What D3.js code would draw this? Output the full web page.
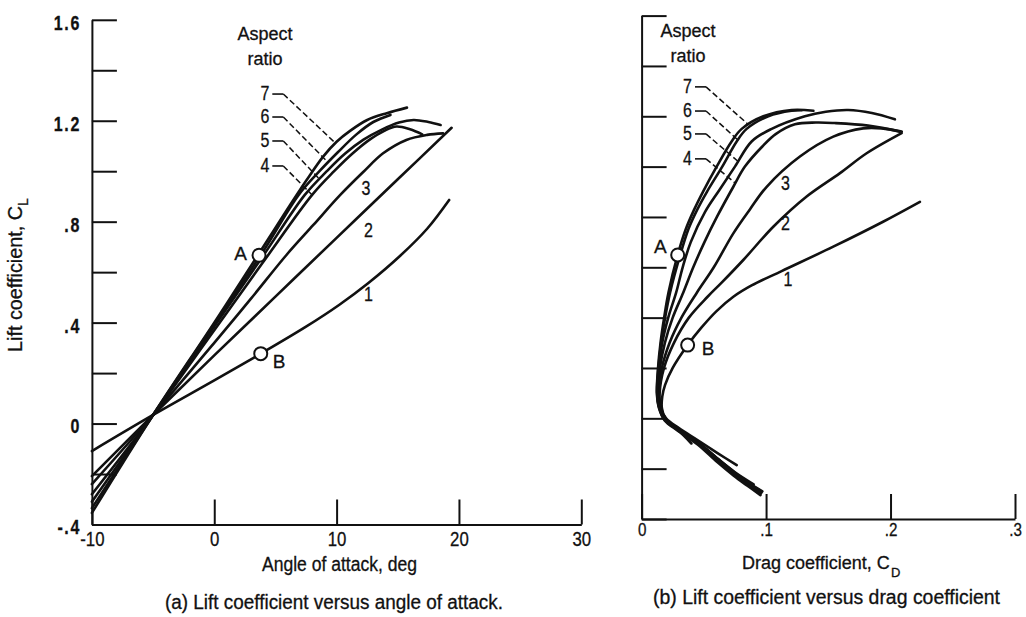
<!DOCTYPE html>
<html>
<head>
<meta charset="utf-8">
<script src="https://cdn.jsdelivr.net/npm/d3@7"></script>
<style>
  html, body { margin: 0; padding: 0; background: #fff; }
  svg { display: block; }
  text { font-family: "Liberation Sans", Arial, sans-serif; fill: #111; stroke: #111; stroke-width: 0.3px; }
</style>
</head>
<body>
<svg id="fig" width="1026" height="617"></svg>
<script>
// Wing aspect ratios shown in both panels
const aspectRatios = [1, 2, 3, 4, 5, 6, 7];

// (a) Lift coefficient C_L against angle of attack (deg), one list per aspect ratio
const liftAR1 = [[-10,-0.109],[-5,0.034],[0,0.171],[3.8,0.277],[7.5,0.384],[10.2,0.470],[12.6,0.557],[15.2,0.665],[17.4,0.772],[19.2,0.886]];
const liftAR2 = [[-10,-0.208],[-5,0.034],[0,0.270],[5,0.503],[10,0.736],[15,0.968],[19.4,1.172]];
const liftAR3 = [[-10,-0.24],[-5,0.034],[0,0.32],[3,0.495],[5.9,0.668],[8.1,0.787],[10.3,0.906],[12.2,0.998],[13.8,1.071],[15.7,1.124],[17.4,1.144],[18.7,1.150]];
const liftAR4 = [[-10,-0.28],[-5,0.034],[0,0.37],[4,0.64],[8,0.906],[9.8,1.0],[11.3,1.07],[12.7,1.125],[13.9,1.160],[14.9,1.177],[16,1.166],[17,1.146]];
const liftAR5 = [[-10,-0.31],[-5,0.034],[0,0.385],[4,0.665],[7.4,0.906],[9.2,1.0],[10.7,1.07],[12.2,1.125],[13.7,1.165],[15.1,1.193],[16.3,1.203],[17.5,1.195],[18.5,1.183]];
const liftAR6 = [[-10,-0.335],[-5,0.034],[0,0.395],[3.9,0.675],[6.9,0.906],[8.6,1.0],[10.1,1.075],[11.6,1.145],[13,1.195],[14.4,1.223]];
const liftAR7 = [[-10,-0.354],[-5,0.034],[0,0.40],[3.75,0.681],[4.8,0.760],[6.2,0.866],[7.55,0.965],[8.9,1.058],[10,1.117],[11.1,1.160],[12.5,1.203],[14.1,1.230],[15.75,1.252]];

// (b) Drag polars: [C_D, C_L] per aspect ratio
const polarAR1 = [[0.040,-0.10],[0.0295,-0.048],[0.0195,-0.005],[0.0163,0.04],[0.0166,0.086],[0.0188,0.132],[0.025,0.2],[0.037,0.291],[0.048,0.36],[0.06,0.425],[0.0737,0.483],[0.0884,0.528],[0.1125,0.585],[0.154,0.682],[0.194,0.781],[0.2236,0.860]];
const polarAR2 = [[0.0764,-0.186],[0.061,-0.138],[0.0455,-0.088],[0.0297,-0.038],[0.0197,0.0],[0.0155,0.04],[0.0145,0.10],[0.018,0.2],[0.026,0.3],[0.038,0.4],[0.053,0.483],[0.0645,0.54],[0.0817,0.629],[0.1058,0.761],[0.1326,0.881],[0.1594,0.974],[0.1808,1.053],[0.2089,1.133]];
const polarAR3 = [[0.09,-0.262],[0.075,-0.214],[0.0616,-0.162],[0.0455,-0.095],[0.0297,-0.042],[0.0195,-0.003],[0.0152,0.04],[0.0138,0.10],[0.0163,0.2],[0.0225,0.3],[0.032,0.4],[0.0445,0.5],[0.058,0.6],[0.0737,0.735],[0.087,0.83],[0.1005,0.92],[0.1272,1.04],[0.154,1.119],[0.178,1.152],[0.193,1.152],[0.2075,1.139]];
const polarAR4 = [[0.097,-0.29],[0.0862,-0.256],[0.0752,-0.217],[0.0618,-0.164],[0.0457,-0.097],[0.0297,-0.044],[0.0192,-0.005],[0.0148,0.04],[0.013,0.10],[0.0147,0.2],[0.0187,0.3],[0.025,0.4],[0.0335,0.5],[0.0415,0.6],[0.0505,0.7],[0.0605,0.8],[0.0737,0.92],[0.083,1.0],[0.097,1.08],[0.108,1.13],[0.1232,1.168],[0.14,1.175],[0.155,1.173],[0.182,1.163],[0.209,1.139]];
const polarAR5 = [[0.0965,-0.292],[0.086,-0.257],[0.075,-0.218],[0.0616,-0.165],[0.0455,-0.098],[0.0295,-0.045],[0.019,-0.006],[0.0145,0.04],[0.0126,0.10],[0.0140,0.2],[0.0166,0.3],[0.0214,0.4],[0.0278,0.5],[0.033,0.6],[0.0395,0.7],[0.051,0.82],[0.0625,0.907],[0.075,1.0],[0.0884,1.1],[0.1045,1.15],[0.1312,1.2],[0.148,1.218],[0.166,1.225],[0.185,1.213],[0.2035,1.188]];
const polarAR6 = [[0.096,-0.298],[0.0855,-0.262],[0.0745,-0.222],[0.061,-0.169],[0.0453,-0.101],[0.0293,-0.047],[0.0187,-0.007],[0.0142,0.04],[0.0124,0.10],[0.0135,0.2],[0.0157,0.3],[0.0189,0.4],[0.0229,0.5],[0.0305,0.64],[0.0375,0.75],[0.0448,0.83],[0.0525,0.9],[0.0648,1.0],[0.0764,1.1],[0.0844,1.15],[0.1018,1.2],[0.1205,1.222],[0.1286,1.224]];
const polarAR7 = [[0.0955,-0.305],[0.085,-0.268],[0.074,-0.228],[0.0605,-0.173],[0.045,-0.104],[0.029,-0.049],[0.0185,-0.008],[0.014,0.04],[0.0123,0.10],[0.0132,0.2],[0.0152,0.3],[0.0181,0.4],[0.0216,0.5],[0.029,0.649],[0.0354,0.75],[0.0423,0.83],[0.0493,0.9],[0.0603,1.0],[0.0723,1.1],[0.0804,1.15],[0.0978,1.2],[0.1205,1.225],[0.138,1.222]];

const liftCurves = [liftAR1, liftAR2, liftAR3, liftAR4, liftAR5, liftAR6, liftAR7];
const polarCurves = [polarAR1, polarAR2, polarAR3, polarAR4, polarAR5, polarAR6, polarAR7];

// Axis ticks and their labels
const alphaTicks = [-10, 0, 10, 20, 30];
const alphaTickLabels = ["-10", "0", "10", "20", "30"];
const clTicks = [-0.4, -0.2, 0, 0.2, 0.4, 0.6, 0.8, 1.0, 1.2, 1.4, 1.6];
const clTickLabels = ["-.4", "", "0", "", ".4", "", ".8", "", "1.2", "", "1.6"];
const cdTicks = [0, 0.1, 0.2, 0.3];
const cdTickLabels = ["0", ".1", ".2", ".3"];

// Marked operating points A and B
const liftPoints = [{ name: "A", x: 3.66, y: 0.667 }, { name: "B", x: 3.8, y: 0.277 }];
const polarPoints = [{ name: "A", x: 0.029, y: 0.649 }, { name: "B", x: 0.037, y: 0.291 }];

// Curve labels: leader-labelled ones (4-7) and inline ones (1-3), in data units
const liftLeaderLabels = [
  { ar: 7, x: 4.5, y: 1.282, at: 9.9 },
  { ar: 6, x: 4.5, y: 1.191, at: 9.3 },
  { ar: 5, x: 4.5, y: 1.096, at: 8.6 },
  { ar: 4, x: 4.5, y: 0.997, at: 8.0 }
];
const liftInlineLabels = [{ ar: 3, x: 12.4, y: 0.904 }, { ar: 2, x: 12.6, y: 0.738 }, { ar: 1, x: 12.6, y: 0.486 }];
const polarLeaderLabels = [
  { ar: 7, x: 0.0405, y: 1.293, at: 1.166 },
  { ar: 6, x: 0.0405, y: 1.197, at: 1.106 },
  { ar: 5, x: 0.0405, y: 1.106, at: 1.02 },
  { ar: 4, x: 0.0405, y: 1.007, at: 0.934 }
];
const polarInlineLabels = [{ ar: 3, x: 0.1155, y: 0.907 }, { ar: 2, x: 0.1155, y: 0.748 }, { ar: 1, x: 0.1175, y: 0.524 }];

const svg = d3.select("#fig");
const ink = "#111";
const NARROW = 0.8;   // horizontal squeeze for the condensed numerals

const xA = d3.scaleLinear().domain([-10, 30]).range([91.9, 581.3]);
const yA = d3.scaleLinear().domain([-0.4, 1.6]).range([524.5, 19.8]);
const xB = d3.scaleLinear().domain([0, 0.3]).range([641.6, 1015]);
const yB = d3.scaleLinear().domain([-0.4, 1.6]).range([519, 15.6]);

// linear interpolation along a polyline: point where coordinate k equals v
function along(points, k, v) {
  for (let i = 0; i < points.length - 1; i++) {
    const a = points[i], b = points[i + 1];
    if ((a[k] - v) * (b[k] - v) <= 0 && a[k] !== b[k]) {
      const t = (v - a[k]) / (b[k] - a[k]);
      return [a[0] + t * (b[0] - a[0]), a[1] + t * (b[1] - a[1])];
    }
  }
  return points[points.length - 1];
}

// squeeze numerals horizontally while keeping their anchor point in place
function condense(sel) {
  sel.each(function () {
    const t = d3.select(this);
    const x = +t.attr("x") || 0;
    t.attr("x", x / NARROW).attr("transform", `scale(${NARROW},1)`);
  });
}

function styleAxis(g, numSize, weight) {
  g.attr("font-family", null).attr("font-size", null);
  g.selectAll("path.domain").attr("stroke", ink).attr("stroke-width", 2);
  g.selectAll(".tick line").attr("stroke", ink).attr("stroke-width", 2);
  g.selectAll(".tick text").attr("fill", ink).style("font-size", numSize + "px")
    .style("font-weight", weight);
  condense(g.selectAll(".tick text"));
}

function panel(x, y, curves, points, leaderLabels, inlineLabels, opts) {
  const g = svg.append("g");

  // axes with inward ticks
  const ax = g.append("g").attr("transform", `translate(0,${y.range()[0]})`)
    .call(d3.axisBottom(x).tickValues(opts.xTicks).tickFormat((d, i) => opts.xLabels[i])
      .tickSizeInner(-25).tickSizeOuter(0).tickPadding(opts.xPad));
  styleAxis(ax, opts.xNum, "normal");

  const ay = g.append("g").attr("transform", `translate(${x.range()[0]},0)`)
    .call(d3.axisLeft(y).tickValues(clTicks).tickFormat((d, i) => opts.yLabels ? opts.yLabels[i] : "")
      .tickSizeInner(-25).tickSizeOuter(0).tickPadding(11));
  styleAxis(ay, opts.yNum, "bold");
  ay.selectAll(".tick text").attr("y", 3).attr("letter-spacing", "2px");

  // curves
  const line = d3.line().x(d => x(d[0])).y(d => y(d[1])).curve(d3.curveCatmullRom.alpha(0.5));
  g.append("g").selectAll("path").data(curves).join("path")
    .attr("d", line).attr("fill", "none").attr("stroke", ink)
    .attr("stroke-width", 2.6).attr("stroke-linejoin", "round").attr("stroke-linecap", "round");

  // "Aspect ratio" heading
  const head = g.append("text").attr("text-anchor", "middle").style("font-size", "18px");
  head.append("tspan").attr("x", x(opts.head[0])).attr("y", y(opts.head[1])).text("Aspect");
  head.append("tspan").attr("x", x(opts.head[0])).attr("y", y(opts.head[2])).text("ratio");

  // leader-labelled curves
  leaderLabels.forEach(l => {
    const lx = x(l.x), ly = y(l.y);
    g.append("text").attr("x", lx).attr("y", ly)
      .attr("text-anchor", "end").style("font-size", "20px").text(l.ar).call(condense);
    const curve = curves[aspectRatios.indexOf(l.ar)];
    const tgt = along(curve, opts.leaderKey, l.at);
    const hx0 = lx + 3, hx1 = lx + 14, hy = ly - 6;
    g.append("line").attr("x1", hx0).attr("x2", hx1).attr("y1", hy).attr("y2", hy)
      .attr("stroke", ink).attr("stroke-width", 1.6);
    g.append("line").attr("x1", hx1).attr("y1", hy).attr("x2", x(tgt[0])).attr("y2", y(tgt[1]))
      .attr("stroke", ink).attr("stroke-width", 1.5).attr("stroke-dasharray", "6,3");
  });

  inlineLabels.forEach(l => {
    g.append("text").attr("x", x(l.x)).attr("y", y(l.y))
      .attr("text-anchor", "middle").style("font-size", "20px").text(l.ar).call(condense);
  });

  // points A and B
  points.forEach((p, i) => {
    const cx = x(p.x), cy = y(p.y);
    g.append("circle").attr("cx", cx).attr("cy", cy).attr("r", 6.5)
      .attr("fill", "#fff").attr("stroke", ink).attr("stroke-width", 2);
    const off = opts.pointLabelOffsets[i];
    g.append("text").attr("x", cx + off[0]).attr("y", cy + off[1])
      .attr("text-anchor", off[0] < 0 ? "end" : "start").style("font-size", "19px").text(p.name);
  });
  return g;
}

panel(xA, yA, liftCurves, liftPoints, liftLeaderLabels, liftInlineLabels, {
  xTicks: alphaTicks, xLabels: alphaTickLabels, xPad: 7, xNum: 21,
  yLabels: clTickLabels, yNum: 20,
  head: [4.15, 1.52, 1.421],
  leaderKey: 0,
  pointLabelOffsets: [[-12, 5], [12, 14]]
});

panel(xB, yB, polarCurves, polarPoints, polarLeaderLabels, polarInlineLabels, {
  xTicks: cdTicks, xLabels: cdTickLabels, xPad: 4, xNum: 19,
  yLabels: null, yNum: 18,
  head: [0.0373, 1.515, 1.416],
  leaderKey: 1,
  pointLabelOffsets: [[-11, -2], [14, 10]]
});

// axis titles
svg.append("text").attr("x", 262).attr("y", 571)
  .attr("textLength", 155).attr("lengthAdjust", "spacingAndGlyphs")
  .style("font-size", "20px").text("Angle of attack, deg");

svg.append("text").attr("x", 742).attr("y", 569)
  .style("font-size", "18px").text("Drag coefficient, C");
svg.append("text").attr("x", 891).attr("y", 577).style("font-size", "13px").text("D");

const clTitle = svg.append("text").attr("transform", "translate(22,352) rotate(-90)")
  .style("font-size", "20px");
clTitle.append("tspan").attr("textLength", 146).attr("lengthAdjust", "spacingAndGlyphs").text("Lift coefficient, C");
clTitle.append("tspan").attr("dy", 6).style("font-size", "14px").text("L");

// panel captions
svg.append("text").attr("x", 165).attr("y", 609)
  .attr("textLength", 338).attr("lengthAdjust", "spacingAndGlyphs")
  .style("font-size", "19.5px").text("(a) Lift coefficient versus angle of attack.");
svg.append("text").attr("x", 653).attr("y", 604)
  .attr("textLength", 347).attr("lengthAdjust", "spacingAndGlyphs")
  .style("font-size", "20px").text("(b) Lift coefficient versus drag coefficient");
</script>
</body>
</html>
